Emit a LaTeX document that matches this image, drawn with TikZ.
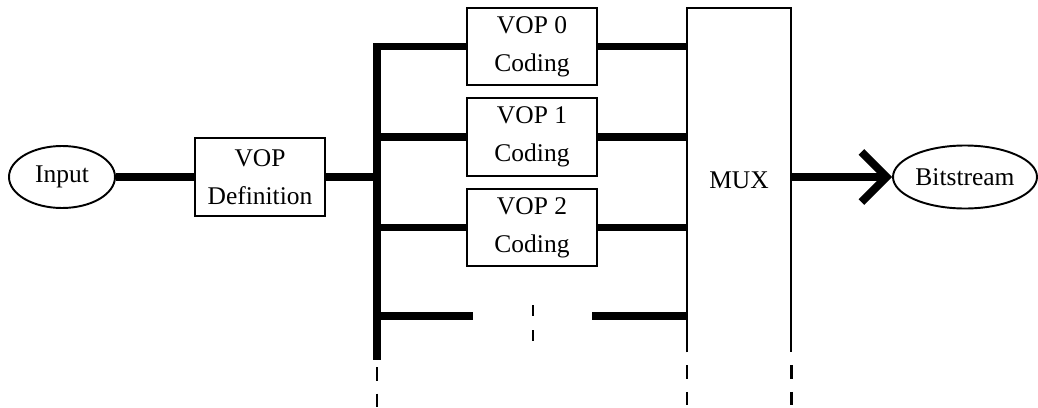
\documentclass[tikz,border=0pt]{standalone}
\usepackage{fontspec}
\setmainfont{Liberation Serif}
\usetikzlibrary{shapes.geometric,arrows.meta,calc}
\tikzstyle{block}=[draw, line width=1.1pt, align=center, inner sep=0pt,
  minimum width=2.6cm, minimum height=1.55cm,
  font=\fontsize{14.5}{21.5}\selectfont]
\tikzstyle{terminal}=[draw, ellipse, line width=1.1pt, inner sep=0pt,
  font=\fontsize{14.5}{21.5}\selectfont]
\tikzstyle{bus}=[line width=4pt]
\tikzstyle{more}=[line width=1.3pt, dash pattern=on 0.27cm off 0.26cm]
\newcommand{\vop}[1]{node (v#1) [block]
  {VOP #1\\Coding}}

\begin{document}
\begin{tikzpicture}
  \useasboundingbox (0,0) rectangle (20.76,-8.14);
  \path (1.24,-3.54) node (input) [terminal, minimum width=2.12cm, minimum height=1.24cm] {Input};
  \path (5.2,-3.54) node (vopdef) [block] {VOP\\Definition};
  \path (10.64,-0.93) \vop{0};
  \path (v0)+(0,-1.81) \vop{1};
  \path (v1)+(0,-1.81) \vop{2};
  \path (14.78,-3.6) node (mux) [minimum width=2.08cm, minimum height=6.88cm,
    font=\fontsize{14.5}{21.5}\selectfont] {MUX};
  \path (19.3,-3.54) node (bits) [terminal, minimum width=2.88cm, minimum height=1.26cm] {Bitstream};

  % the bus
  \coordinate (busx) at (7.54,0);
  \coordinate (busbot) at (7.54,-7.2);
  \draw[bus, line join=miter] (v0.west) -- (v0.west -| busx) -- (busbot);
  \draw[bus] (input) -- (vopdef);
  \draw[bus] (vopdef.east) -- (vopdef.east -| busx);
  \foreach \i in {1,2}
    \draw[bus] (v\i.west -| busx) -- (v\i.west);
  \foreach \i in {0,1,2}
    \draw[bus] (v\i.east) -- (v\i.east -| mux.west);

  % more VOPs
  \coordinate (gapl) at (9.46,-6.32);
  \coordinate (gapr) at (11.84,-6.32);
  \draw[bus] (gapl -| busx) -- (gapl);
  \draw[bus] (gapr) -- (gapr -| mux.west);
  \draw[more, dash pattern=on 0.22cm off 0.28cm] (10.66,-6.1) -- (10.66,-6.84);

  % mux without bottom
  \draw[line width=1.1pt] (mux.south west) |- (mux.north east) -- (mux.south east);
  \draw[more] ($(busbot)+(0,-0.14)$) -- (7.54,-8.14);
  \draw[more] ($(mux.south west)+(0,-0.26)$) -- ++(0,-0.84);
  \draw[more] ($(mux.south east)+(0,-0.26)$) -- ++(0,-0.84);

  \draw[bus, -{Straight Barb[length=0.5cm, width=1.0cm, line width=4.5pt]}] (mux.east |- bits.west) -- (bits.west);
\end{tikzpicture}
\end{document}
